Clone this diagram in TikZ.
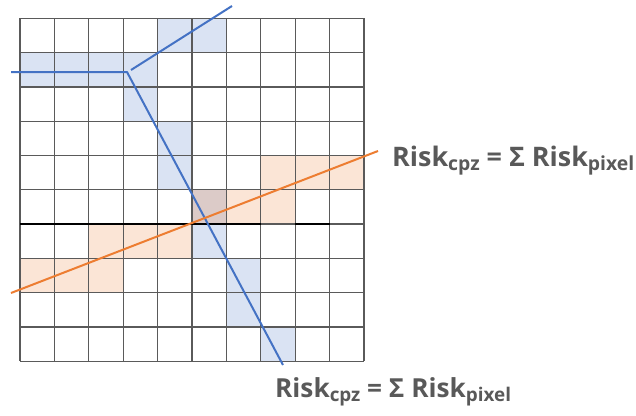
\documentclass[tikz,border=0pt]{standalone}
\usepackage{fontspec}
\setmainfont{Open Sans}
\definecolor{gridgray}{HTML}{5A5A5A}
\definecolor{cellblue}{HTML}{DAE3F3}
\definecolor{cellorange}{HTML}{FBE5D6}
\definecolor{cellmix}{HTML}{DCCBC8}
\definecolor{lineblue}{HTML}{4472C4}
\definecolor{lineorange}{HTML}{ED7D31}
\definecolor{textgray}{HTML}{595959}
\newcommand{\mysubtxt}[1]{\raisebox{-0.3ex}{\fontsize{0.72em}{0.72em}\selectfont #1}}
\newcommand{\riskeq}{\bfseries Risk\mysubtxt{cpz} = Σ Risk\mysubtxt{pixel}}
\tikzset{
  gridline/.style={draw=gridgray, line width=1.3pt},
  darkline/.style={draw=black, line width=1.5pt},
  blueline/.style={draw=lineblue, line width=2pt, line join=round},
  orangeline/.style={draw=lineorange, line width=2pt},
  eqlabel/.style={anchor=base west, inner sep=0pt, text=textgray},
}
\begin{document}
\begin{tikzpicture}[x=1pt,y=-1pt]
\useasboundingbox (0,0) rectangle (636,415);
\fill[white] (0,0) rectangle (636,415);
\begin{scope}[shift={(20pt,-18.3pt)}, x=34.4pt, y=-34.3pt]
  % blue cells (col,row)
  \foreach \c/\r in {4/0,5/0,0/1,1/1,2/1,3/1,3/2,4/3,4/4,5/6,6/7,6/8,7/9}
    \fill[cellblue] (\c,\r) rectangle ++(1,1);
  % orange cells
  \foreach \c/\r in {7/4,8/4,9/4,6/5,7/5,2/6,3/6,4/6,0/7,1/7,2/7}
    \fill[cellorange] (\c,\r) rectangle ++(1,1);
  % overlap
  \fill[cellmix] (5,5) rectangle ++(1,1);
  % grid
  \foreach \i in {0,...,10} {
    \draw[gridline] (\i,0) -- (\i,10);
    \draw[gridline] (0,\i) -- (10,\i);
  }
  \draw[darkline] (0,6) -- (7,6);
  \draw[darkline] (8,6) -- (9,6);
\end{scope}
% blue route
\coordinate (b1) at (11,72);
\coordinate (bc) at (127,72);
\coordinate (b2) at (283,365);
\coordinate (b3) at (131,70);
\coordinate (b4) at (232,6);
\draw[blueline] (b1) -- (bc) -- (b2);
\draw[blueline] (b3) -- (b4);
% orange route
\coordinate (o1) at (11,293);
\coordinate (o2) at (378,151);
\draw[orangeline] (o1) -- (o2);
% labels
\node[eqlabel, font=\fontsize{26.9}{30}\selectfont] (eq1) at (392,166) {\riskeq};
\node[eqlabel, font=\fontsize{26.2}{30}\selectfont] (eq2) at (275,397) {\riskeq};
\end{tikzpicture}
\end{document}
